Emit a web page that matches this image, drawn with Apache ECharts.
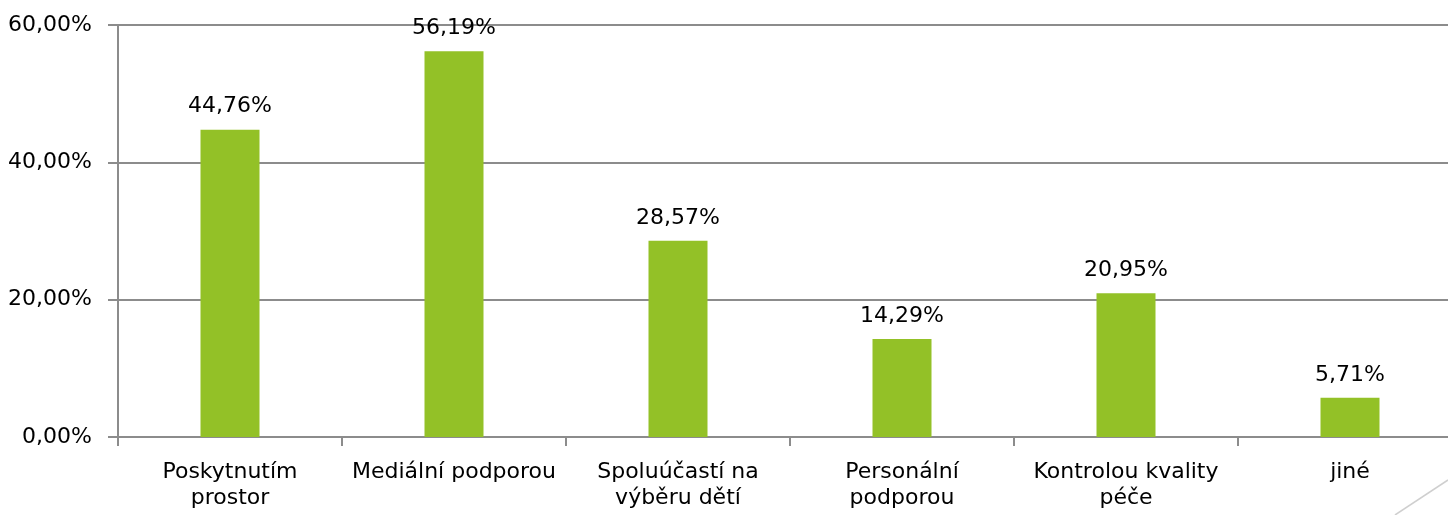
<!DOCTYPE html>
<html>
<head>
<meta charset="utf-8">
<script src="https://cdn.jsdelivr.net/npm/echarts@6/dist/echarts.min.js"></script>
<style>
  html, body { margin: 0; padding: 0; background: #fff; }
  #chart { width: 1448px; height: 515px; }
</style>
</head>
<body>
<div id="chart"></div>
<script>
// kategorie (zalomené jako v originále)
var categories = [
    'Poskytnutím\nprostor',
    'Mediální podporou',
    'Spoluúčastí na\nvýběru dětí',
    'Personální\npodporou',
    'Kontrolou kvality\npéče',
    'jiné'
];
var values = [44.76, 56.19, 28.57, 14.29, 20.95, 5.71];
var yTicks = { min: 0, max: 60, interval: 20 };

var FONT = 'DejaVu Sans';
var LINE = '#8c8c8c';

function pct(v) {
    return Number(v).toFixed(2).replace('.', ',') + '%';
}

var chart = echarts.init(document.getElementById('chart'));
chart.setOption({
    animation: false,
    textStyle: { fontFamily: FONT },
    // plocha grafu přesahuje pravý okraj (jako v originálním slajdu)
    grid: { left: 118, top: 25, height: 412, width: 1344, outerBoundsMode: 'none', containLabel: false },
    xAxis: {
        type: 'category',
        data: categories,
        axisLine: { lineStyle: { color: LINE, width: 2 } },
        axisTick: { show: true, length: 9, lineStyle: { color: LINE, width: 2 } },
        axisLabel: {
            color: '#000', fontSize: 22, lineHeight: 26, margin: 22,
            interval: 0, fontFamily: FONT
        }
    },
    yAxis: {
        type: 'value',
        min: yTicks.min, max: yTicks.max, interval: yTicks.interval,
        axisLine: { show: true, lineStyle: { color: LINE, width: 2 } },
        axisTick: { show: true, length: 10, lineStyle: { color: LINE, width: 2 } },
        splitLine: { lineStyle: { color: LINE, width: 2 } },
        axisLabel: {
            color: '#000', fontSize: 22, margin: 26, fontFamily: FONT,
            formatter: function (v) { return pct(v); }
        }
    },
    series: [{
        type: 'bar',
        data: values,
        barWidth: 59,
        itemStyle: { color: '#93c127' },
        label: {
            show: true, position: 'top', distance: 12,
            color: '#000', fontSize: 22, fontFamily: FONT,
            formatter: function (p) { return pct(p.value); }
        }
    }],
    graphic: [{
        type: 'line',
        shape: { x1: 1395, y1: 515, x2: 1448, y2: 480 },
        style: { stroke: '#cfcfcf', lineWidth: 1.5 },
        silent: true
    }]
});
</script>
</body>
</html>
